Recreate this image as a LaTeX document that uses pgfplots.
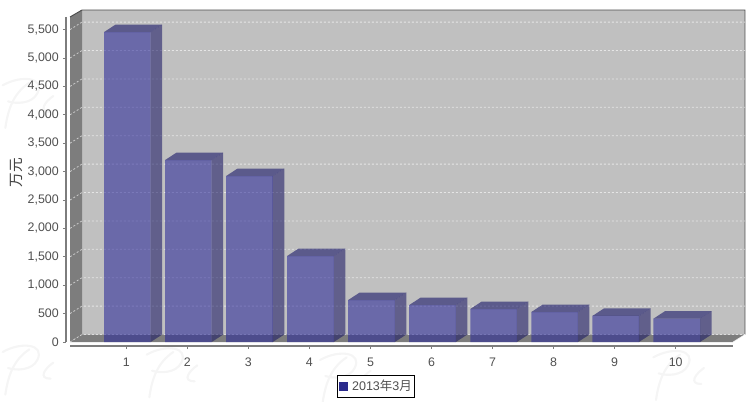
\documentclass[border=0pt]{standalone}
\usepackage{fontspec}
\setmainfont{Liberation Sans}
\newfontfamily\cjk{Noto Sans CJK SC}
\usepackage{pgfplots}
\usepackage{pgfplotstable}
\pgfplotsset{compat=1.18}
\definecolor{wallc}{RGB}{192,192,192}
\definecolor{sidewall}{RGB}{125,125,125}
\definecolor{barf}{RGB}{42,40,153}
\definecolor{bars}{RGB}{25,23,100}
\definecolor{bart}{RGB}{15,13,100}
\definecolor{legc}{RGB}{42,42,140}
\definecolor{txt}{RGB}{80,80,80}
\definecolor{axl}{RGB}{125,125,125}
\pgfplotstableread{
n v
1 5456
2 3203
3 2922
4 1514
5 739
6 651
7 581
8 528
9 458
10 410
}\sales
\newcommand\sidetop[2]{%
 \addplot[forget plot,draw=none,fill=bars,fill opacity=.57,mark=none] coordinates {(#1+0.399,0) (#1+0.588,132) (#1+0.588,#2+132) (#1+0.399,#2)} --cycle;
 \addplot[forget plot,draw=none,fill=bart,fill opacity=.57,mark=none] coordinates {(#1-0.365,#2) (#1-0.177,#2+132) (#1+0.588,#2+132) (#1+0.399,#2)} --cycle;
}
% faint background scribble of the reference's watermark
\newcommand\wmark[2]{%
 \begin{scope}[shift={(#1,#2)},draw=black!4,line width=1.6pt,line cap=round]
  \draw (2pt,-34pt) .. controls (4pt,-20pt) and (8pt,-8pt) .. (20pt,0pt);
  \draw (0pt,-2pt) .. controls (14pt,6pt) and (32pt,4pt) .. (26pt,-8pt) .. controls (22pt,-16pt) and (10pt,-16pt) .. (4pt,-14pt);
  \draw (38pt,-10pt) .. controls (32pt,-14pt) and (26pt,-22pt) .. (36pt,-22pt);
 \end{scope}}
\begin{document}
\begin{tikzpicture}
\useasboundingbox (0pt,0pt) rectangle (561.75pt,-300.75pt);
\wmark{2pt}{-62pt}
\wmark{2pt}{-262pt}
\wmark{110pt}{-264pt}
\wmark{240pt}{-268pt}
\wmark{490pt}{-266pt}
\begin{axis}[
 at={(49.5pt,-259.5pt)},anchor=south west,
 scale only axis,width=509.25pt,height=252pt,
 xmin=0.0121,xmax=11.136,ymin=-70.4,ymax=5845,
 clip=false,
 axis line style={draw=none},
 xtick={1,2,3,4,5,6,7,8,9,10},
 ytick={0,500,1000,1500,2000,2500,3000,3500,4000,4500,5000,5500},
 xtick pos=bottom,ytick pos=left,
 tick align=outside,
 major tick length=2.4pt,
 tick style={draw=axl,line width=.6pt},
 every tick label/.append style={font=\fontsize{9.3}{11}\selectfont,text=txt},
 /pgf/number format/assume math mode=true,
 /pgf/number format/1000 sep={,},
 scaled y ticks=false,
 xticklabel style={yshift=-3pt},
 yticklabel style={xshift=.5pt},
 ylabel={\cjk 万元},
 ylabel style={font=\fontsize{11}{12}\selectfont,text=black!75,at={(axis description cs:-0.0725,0.515)},anchor=center,rotate=0},
 legend style={at={(axis description cs:0.4566,-0.1205)},anchor=center,draw=black,line width=.8pt,
   font=\fontsize{9.4}{11}\selectfont,text=txt,inner xsep=1pt,inner ysep=2.2pt,cells={anchor=west},
   nodes={inner sep=1pt}},
]
% walls and floor
\fill[wallc] (axis cs:0.2743,132) rectangle (axis cs:11.136,5845);
\fill[sidewall] (axis cs:0.0777,0) -- (axis cs:0.2743,132) -- (axis cs:0.2743,5845) -- (axis cs:0.0777,5722) -- cycle;
\fill[sidewall] (axis cs:0.0777,0) -- (axis cs:0.2743,132) -- (axis cs:11.136,132) -- (axis cs:10.939,0) -- cycle;
\draw[gray!60!black,line width=.7pt] (axis cs:0.0777,5722) -- (axis cs:0.2743,5845) -- (axis cs:11.136,5845) -- (axis cs:11.136,132);
\draw[white,line width=.5pt,opacity=.8] (axis cs:11.136,132) -- (axis cs:10.939,0);
% grid
\pgfplotsinvokeforeach{0,500,1000,1500,2000,2500,3000,3500,4000,4500,5000,5500}{
 \draw[white,opacity=.6,line width=.6pt,dash pattern=on 1.5pt off 1.5pt] (axis cs:0.0777,#1) -- (axis cs:0.2743,#1+132) -- (axis cs:11.136,#1+132);
}
% axis lines
\draw[axl,line width=.8pt] (axis cs:0.0121,5722) -- (axis cs:0.0121,0);
\draw[axl,line width=.8pt] (axis cs:0.0777,-70.4) -- (axis cs:10.939,-70.4);
% bars
\addplot[ybar,bar width=35pt,bar shift=0.8pt,draw=none,fill=barf,fill opacity=.57,
  legend image code/.code={\fill[legc,fill opacity=1] (0pt,-3.4pt) rectangle (6.8pt,3.4pt);}] table[x=n,y=v] {\sales};
\addlegendentry{\hspace{2.2pt}2013{\cjk 年}3{\cjk 月}}
\sidetop{1}{5456}
\sidetop{2}{3203}
\sidetop{3}{2922}
\sidetop{4}{1514}
\sidetop{5}{739}
\sidetop{6}{651}
\sidetop{7}{581}
\sidetop{8}{528}
\sidetop{9}{458}
\sidetop{10}{410}
\end{axis}
\end{tikzpicture}
\end{document}
